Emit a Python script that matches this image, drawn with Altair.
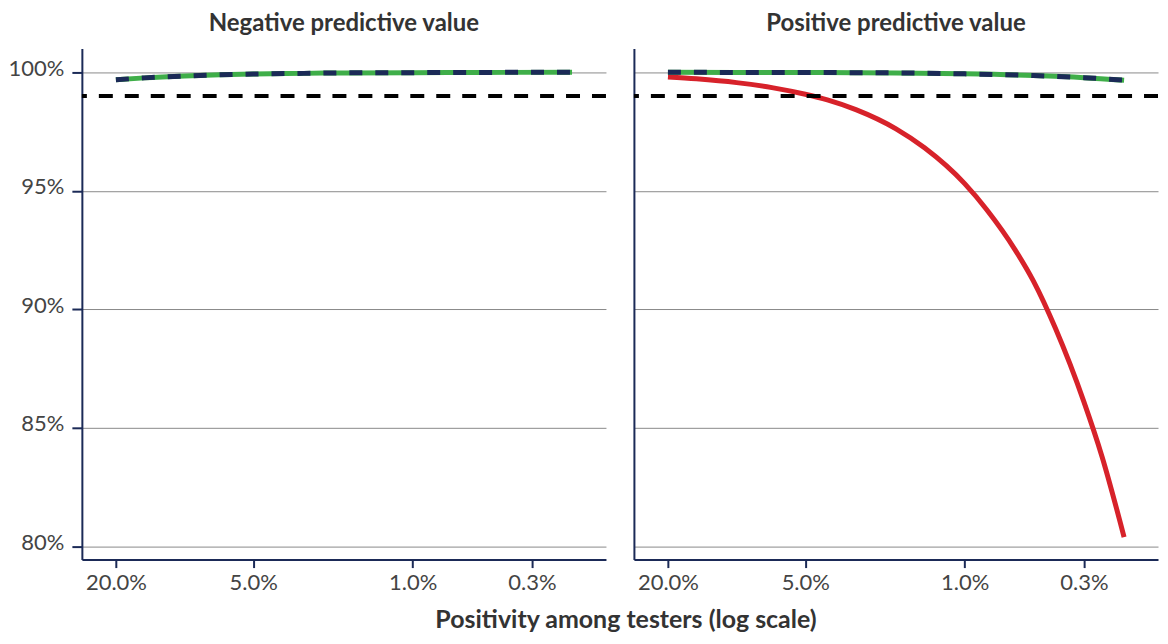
import altair as alt
import pandas as pd

FONT = "Lato"
NAVY = "#1b2a57"
GREEN = "#3fae49"
RED = "#d7222a"
GRID = "#8a8a8a"
TEXT = "#333333"
LABEL = "#444444"

panel_titles = ["Negative predictive value", "Positive predictive value"]
x_ticks = [20, 5, 1, 0.3]
y_ticks = [80, 85, 90, 95, 100]
threshold = [99]

# Negative predictive value panel (green and navy dashed series overlap)
npv_prev = [20, 15, 10, 7, 5, 3, 2, 1, 0.5, 0.2]
npv_green = [99.68, 99.76, 99.84, 99.89, 99.92, 99.95, 99.97, 99.98, 99.99, 99.997]
npv_navy = [99.68, 99.76, 99.84, 99.89, 99.92, 99.95, 99.97, 99.98, 99.99, 99.997]

# Positive predictive value panel
ppv_prev = [20, 10, 5, 3, 2, 1, 0.5, 0.3, 0.2]
ppv_green = [100.0, 99.99, 99.99, 99.98, 99.97, 99.93, 99.86, 99.77, 99.66]
ppv_navy = [100.0, 99.99, 99.99, 99.98, 99.97, 99.93, 99.86, 99.77, 99.66]

red_prev = [20, 15, 10, 7, 5, 4, 3, 2, 1.5, 1, 0.8, 0.6, 0.5, 0.4, 0.3, 0.25, 0.2]
red_ppv = [99.80, 99.72, 99.56, 99.35, 99.07, 98.83, 98.42, 97.61, 96.81, 95.3,
           94.2, 92.5, 91.2, 89.2, 86.1, 83.8, 80.4]

xscale = alt.Scale(type="log", domain=[0.142, 28.2], reverse=True, nice=False)
yscale = alt.Scale(domain=[79.45, 101.0], nice=False, zero=False)

x_axis = alt.Axis(
    values=x_ticks, labelExpr="format(datum.value, '.1f') + '%'", title=None,
    grid=False, domainColor=NAVY, domainWidth=2, tickColor=NAVY, tickWidth=2,
    tickSize=8, labelFontSize=22, labelColor=LABEL, labelFont=FONT, labelPadding=5,
)


def y_axis(show):
    if show:
        return alt.Axis(
            values=y_ticks, labelExpr="datum.value + '%'", title=None,
            grid=True, gridColor=GRID, gridWidth=1, domainColor=NAVY,
            domainWidth=2, tickColor=NAVY, tickWidth=2, tickSize=10,
            labelFontSize=22, labelColor=LABEL, labelFont=FONT, labelPadding=8,
            labelOffset=-4,
        )
    return alt.Axis(
        values=y_ticks, title=None, labels=False, ticks=False, grid=True,
        gridColor=GRID, gridWidth=1, domainColor=NAVY, domainWidth=2,
    )


def line(prev, vals, color, width, dash=None, show=True):
    df = pd.DataFrame({"p": prev, "v": vals})
    kw = dict(color=color, strokeWidth=width, interpolate="monotone")
    if dash:
        kw["strokeDash"] = dash
    return alt.Chart(df).mark_line(**kw).encode(
        x=alt.X("p:Q", scale=xscale, axis=x_axis),
        y=alt.Y("v:Q", scale=yscale, axis=y_axis(show)),
    )


def rule():
    return alt.Chart(pd.DataFrame({"v": threshold})).mark_rule(
        color="black", strokeWidth=4, strokeDash=[14, 12]
    ).encode(y=alt.Y("v:Q", scale=yscale))


def panel(title, layers):
    return alt.layer(*layers).properties(
        width=525, height=512,
        title=alt.TitleParams(title, fontSize=24, fontWeight="bold", color=TEXT,
                              font=FONT, anchor="middle", frame="group", offset=13),
    )


left = panel(panel_titles[0], [
    line(npv_prev, npv_green, GREEN, 5, show=True),
    line(npv_prev, npv_navy, NAVY, 5, dash=[13, 13], show=True),
    rule(),
])

right = panel(panel_titles[1], [
    line(red_prev, red_ppv, RED, 5, show=False),
    line(ppv_prev, ppv_green, GREEN, 5, show=False),
    line(ppv_prev, ppv_navy, NAVY, 5, dash=[13, 13], show=False),
    rule(),
])

chart = alt.hconcat(left, right, spacing=24).properties(
    title=alt.TitleParams("Positivity among testers (log scale)", orient="bottom",
                          anchor="middle", fontSize=25, fontWeight="bold",
                          color=TEXT, font=FONT, dx=42, offset=15),
    padding={"left": 0, "right": 0, "top": 3, "bottom": 0},
).configure_view(stroke=None)

chart.save("out.html", embed_options={"renderer": "svg", "actions": False})
